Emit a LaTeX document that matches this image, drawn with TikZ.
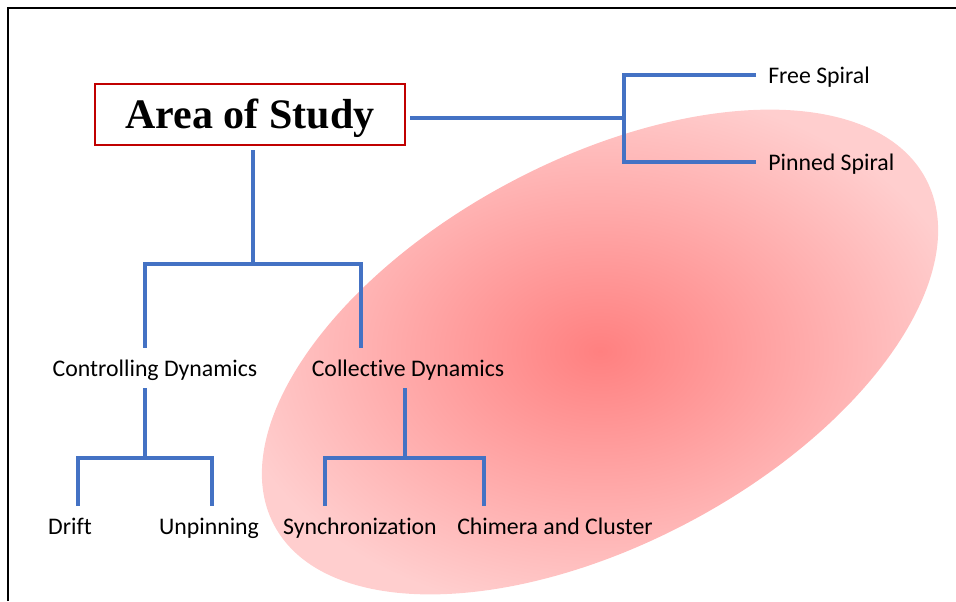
\documentclass[tikz,border=0pt]{standalone}
\usepackage{fontspec}
\setmainfont{Carlito}[Ligatures=NoCommon]
\newfontfamily\titlefont{Liberation Serif}
\usetikzlibrary{shapes.geometric}

\tikzset{
  branch/.style={draw={rgb, 255:red, 68; green, 114; blue, 196 }, line width=2.6pt},
  lbl/.style={inner xsep=9pt, inner ysep=0pt, minimum height=30pt, text height=12.5pt, text depth=0pt, font=\fontsize{17.85}{20}\selectfont},
  titlebox/.style={draw={rgb, 255:red, 192; green, 0; blue, 0 }, line width=1.1pt, minimum width=232.5pt, minimum height=45.75pt, inner sep=0pt, outer sep=3.75pt, text height=21pt, text depth=0pt, font=\titlefont\bfseries\fontsize{31.5}{36}\selectfont},
  blob/.style={ellipse, minimum width=553.5pt, minimum height=288pt, inner sep=0pt, rotate=28, inner color={rgb, 255:red, 255; green, 128; blue, 128 }, outer color={rgb, 255:red, 255; green, 206; blue, 206 }}
}

\begin{document}
\begin{tikzpicture}[x=0.75pt,y=0.75pt,yscale=-1,xscale=1]
\useasboundingbox (0,0) rectangle (956,601);

%Straight Lines: frame
\draw [line width=2.2pt] (8,601) -- (8,8) -- (956,8) ;

%Shape: Ellipse
\node [blob] (blob) at (600,352) {};

% Text Node
\node [titlebox] (area) at (250,114.5) {Area of Study};
% Text Node
\node [lbl, anchor=west] (free) at (756,75) {Free Spiral};
% Text Node
\node [lbl, anchor=west] (pinned) at (756,162) {Pinned Spiral};
% Text Node
\node [lbl] (ctrl) at (155,368) {Controlling Dynamics};
% Text Node
\node [lbl] (coll) at (408,368) {Collective Dynamics};
% Text Node
\node [lbl] (drift) at (70,526) {Drift};
% Text Node
\node [lbl] (unpin) at (209,526) {Unpinning};
% Text Node
\node [lbl] (sync) at (360,526) {Synchronization};
% Text Node
\node [lbl] (chim) at (555,526) {Chimera and Cluster};

% junctions
\coordinate (hubr) at (624,118);
\coordinate (hub) at (253,264);
\coordinate (hubc) at (145,458);
\coordinate (hubl) at (405,458);

%Straight Lines
\draw [branch] (area.east |- hubr) -- (hubr) ;
\draw [branch] (free.west) -| (hubr) |- (pinned.west) ;
%Straight Lines
\draw [branch] (area.south -| hub) -- (hub) ;
\draw [branch] ([xshift=-7.5pt]ctrl.north) |- (hub) -| ([xshift=-35.25pt]coll.north) ;
%Straight Lines
\draw [branch] ([xshift=-7.5pt]ctrl.south) -- (hubc) ;
\draw [branch] ([xshift=6pt]drift.north) |- (hubc) -| ([xshift=2.25pt]unpin.north) ;
%Straight Lines
\draw [branch] ([xshift=-2.25pt]coll.south) -- (hubl) ;
\draw [branch] ([xshift=-26.25pt]sync.north) |- (hubl) -| ([xshift=-53.25pt]chim.north) ;

\end{tikzpicture}
\end{document}
